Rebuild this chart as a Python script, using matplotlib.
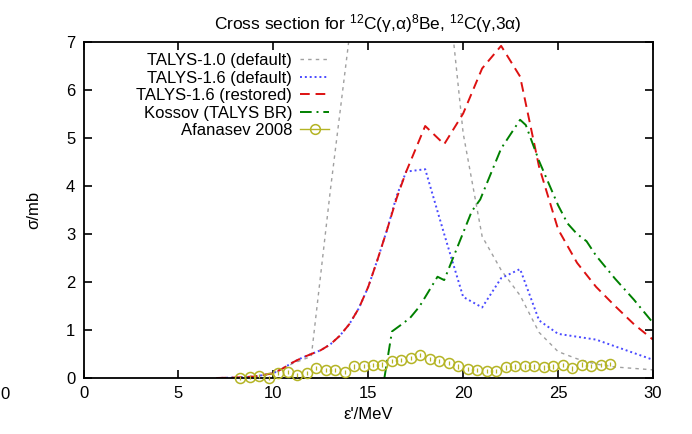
import matplotlib
matplotlib.use("Agg")
import matplotlib.pyplot as plt
from matplotlib.lines import Line2D

plt.rcParams["font.family"] = ["Liberation Sans", "DejaVu Sans"]
plt.rcParams["mathtext.fontset"] = "custom"
plt.rcParams["mathtext.rm"] = "Liberation Sans"
plt.rcParams["mathtext.it"] = "Liberation Sans:italic"

# TALYS-1.0 (default)
e_t10 = [7, 8, 9, 10, 11, 12, 13, 14, 15, 16, 17, 18, 19, 19.5, 20, 21, 22, 23, 24, 25, 26, 27, 28, 29, 30]
s_t10 = [0, 0.01, 0.03, 0.09, 0.3, 0.45, 3.9, 7.1, 10.0, 12.5, 13.5, 12.0, 9.0, 7.0, 5.1, 2.95, 2.25, 1.72, 0.95, 0.55, 0.4, 0.29, 0.23, 0.2, 0.17]

# TALYS-1.6 (default)
e_t16 = [7, 8, 9, 10, 10.5, 11, 11.5, 12, 12.5, 13, 13.5, 14, 14.5, 15, 15.5, 16, 16.5, 17, 18, 19, 20, 21, 22, 23, 24, 25, 26, 27, 28, 29, 30]
s_t16 = [0, 0.01, 0.03, 0.1, 0.2, 0.32, 0.42, 0.5, 0.58, 0.7, 0.88, 1.12, 1.45, 1.9, 2.48, 3.1, 3.8, 4.3,
         4.35, 3.0, 1.69, 1.47, 2.08, 2.27, 1.2, 0.92, 0.86, 0.8, 0.66, 0.52, 0.38]

# TALYS-1.6 (restored)
e_t16r = [7, 8, 9, 10, 10.5, 11, 11.5, 12, 12.5, 13, 13.5, 14, 14.5, 15, 15.5, 16, 16.5, 17, 18, 19, 20, 21, 22, 23, 24, 25, 26, 27, 28, 29, 30]
s_t16r = [0, 0.01, 0.03, 0.1, 0.2, 0.32, 0.42, 0.5, 0.58, 0.7, 0.88, 1.12, 1.45, 1.9, 2.48, 3.1, 3.75, 4.3,
          5.25, 4.87, 5.51, 6.45, 6.92, 6.28, 4.4, 3.1, 2.4, 1.9, 1.5, 1.12, 0.8]

# Kossov (TALYS BR)
e_kos = [15.85, 16.25, 16.7, 17.2, 17.7, 18.65, 19.0, 20.45, 20.9, 22, 23, 23.3, 24, 25, 25.5, 26, 26.5, 27, 28, 29, 30]
s_kos = [0, 0.97, 1.1, 1.25, 1.49, 2.11, 2.04, 3.47, 3.72, 4.78, 5.38, 5.27, 4.52, 3.6, 3.22, 3.0, 2.85, 2.55, 2.07, 1.63, 1.15]

# Afanasev 2008
e_afa = [8.25 + 0.5 * i for i in range(40)]
s_afa = [0.0, 0.02, 0.04, 0.0, 0.10, 0.12, 0.06, 0.11, 0.21, 0.17,
         0.17, 0.12, 0.24, 0.25, 0.27, 0.28, 0.36, 0.38, 0.42, 0.48,
         0.39, 0.36, 0.31, 0.24, 0.19, 0.17, 0.15, 0.15, 0.22, 0.24,
         0.24, 0.24, 0.22, 0.24, 0.27, 0.20, 0.28, 0.25, 0.27, 0.29]
err_afa = [0.045] * len(e_afa)

c_gray = "#a0a0a0"
c_blue = "#4a4aff"
c_red = "#dd1111"
c_green = "#008000"
c_olive = "#b4b424"
fs = 12

fig = plt.figure(figsize=(6.92, 4.34), dpi=100)
ax = fig.add_axes([0.1207, 0.129, 0.8229, 0.7742])

ax.plot(e_t10, s_t10, color=c_gray, lw=1.0, dashes=(2.5, 3))
ax.plot(e_t16, s_t16, color=c_blue, lw=1.4, dashes=(1, 1.5))
ax.plot(e_t16r, s_t16r, color=c_red, lw=1.4, dashes=(5, 3))
ax.plot(e_kos, s_kos, color=c_green, lw=1.4, dashes=(6, 2.5, 1, 2.5))
ax.errorbar(e_afa, s_afa, yerr=err_afa, fmt="o", ms=7.2, mfc="none", mec=c_olive,
            mew=1.1, ecolor=c_olive, elinewidth=0.9, capsize=0, clip_on=False, zorder=3)

ax.set_xlim(0, 30)
ax.set_ylim(0, 7)
ax.set_xticks(range(0, 31, 5))
ax.set_yticks(range(0, 8))
ax.tick_params(direction="in", length=6, width=1.2, top=True, right=True, labelsize=fs, pad=6)
for sp in ax.spines.values():
    sp.set_linewidth(1.3)

ax.set_xlabel("ε'/MeV", fontsize=fs, labelpad=4)
ax.set_ylabel("σ/mb", fontsize=fs, labelpad=18)
ax.set_title("Cross section for $^{12}$C(γ,α)$^{8}$Be, $^{12}$C(γ,3α)", fontsize=12.5, pad=9)

handles = [
    Line2D([], [], color=c_gray, lw=1.0, dashes=(2.5, 3)),
    Line2D([], [], color=c_blue, lw=1.4, dashes=(1, 1.5)),
    Line2D([], [], color=c_red, lw=1.4, dashes=(5, 3)),
    Line2D([], [], color=c_green, lw=1.4, dashes=(6, 2.5, 1, 2.5)),
    Line2D([], [], color=c_olive, lw=1.0, marker="o", ms=7, mfc="none", mew=1.1),
]
labels = ["TALYS-1.0 (default)", "TALYS-1.6 (default)", "TALYS-1.6 (restored)",
          "Kossov (TALYS BR)", "Afanasev 2008"]
ax.legend(handles, labels, loc="upper right", bbox_to_anchor=(0.487, 0.897),
          bbox_transform=fig.transFigure, frameon=False, markerfirst=False,
          alignment="right", fontsize=fs, handlelength=1.7, handletextpad=0.5,
          labelspacing=0.15, borderpad=0)

fig.text(0.0, 0.09, "0", ha="left", va="center", fontsize=fs)

fig.savefig("out.png", dpi=100)
